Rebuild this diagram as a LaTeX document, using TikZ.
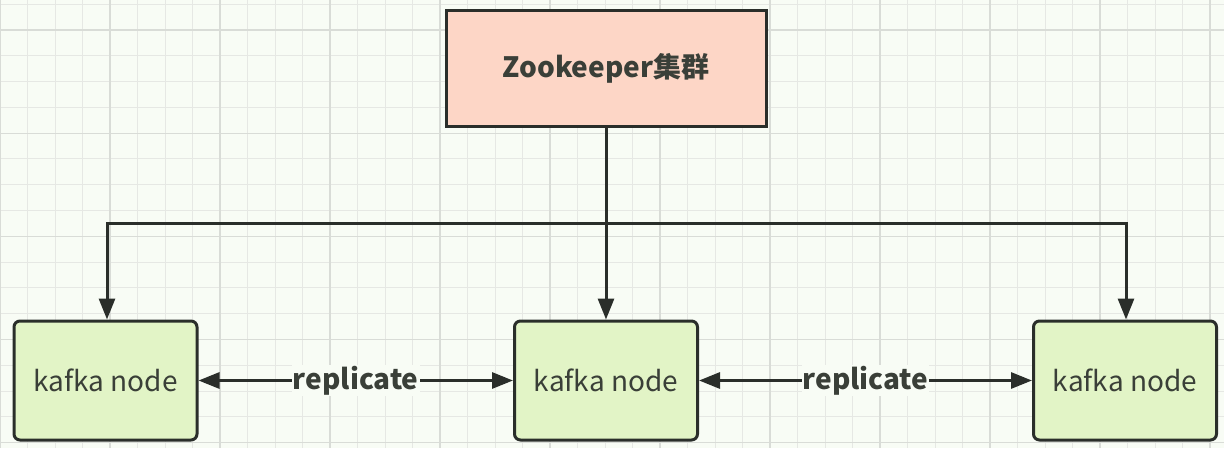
\documentclass[tikz,border=0pt]{standalone}
\usepackage{fontspec}
\setmainfont{Noto Sans CJK SC}
\usetikzlibrary{arrows.meta}
\definecolor{bgc}{HTML}{F8FCF5}
\definecolor{gridc}{HTML}{E6E8E4}
\definecolor{gridm}{HTML}{D9DCD7}
\definecolor{zkfill}{HTML}{FDD6C6}
\definecolor{kfill}{HTML}{E2F4C6}
\definecolor{linec}{HTML}{2A2E2A}
\definecolor{txtc}{HTML}{3A3F38}
\tikzset{
  zkbox/.style={draw=linec, line width=3pt, fill=zkfill, minimum width=320pt, minimum height=116pt, inner sep=0pt, font=\fontsize{28}{32}\selectfont\bfseries, text=txtc},
  kbox/.style={draw=linec, line width=3pt, fill=kfill, rounded corners=6pt, minimum width=183pt, minimum height=119pt, inner sep=0pt, font=\fontsize{28}{32}\selectfont, text=txtc},
  conn/.style={draw=linec, line width=3pt, -{Triangle[length=21pt,width=16pt]}},
  rep/.style={draw=linec, line width=3pt, {Triangle[length=21pt,width=16pt]}-{Triangle[length=21pt,width=16pt]}},
  replbl/.style={fill=bgc, inner sep=1pt, font=\fontsize{28}{32}\selectfont\bfseries, text=txtc}
}
\begin{document}
\begin{tikzpicture}[x=1pt,y=-1pt]
\useasboundingbox (0,0) rectangle (1224,448);
\fill[bgc] (0,0) rectangle (1224,448);
\foreach \i in {0,...,44} {
  \pgfmathsetmacro{\xx}{27.5*\i}
  \draw[gridc, line width=1pt] (\xx,0) -- (\xx,448);
}
\foreach \j in {0,...,17} {
  \pgfmathsetmacro{\yy}{4+25.8*\j}
  \draw[gridc, line width=1pt] (0,\yy) -- (1224,\yy);
}
\foreach \i in {0,...,11} {
  \pgfmathsetmacro{\xx}{110*\i}
  \draw[gridm, line width=1.2pt] (\xx,0) -- (\xx,448);
}
\foreach \j in {0,...,4} {
  \pgfmathsetmacro{\yy}{30+103.2*\j}
  \draw[gridm, line width=1.2pt] (0,\yy) -- (1224,\yy);
}
\node[zkbox] (zk) at (606,68) {Zookeeper集群};
\node[kbox] (k1) at (105.5,380.5) {kafka node};
\node[kbox] (k2) at (606,380.5) {kafka node};
\node[kbox] (k3) at (1125,380.5) {kafka node};
\coordinate (j) at (606,223);
\coordinate (jl) at (107,223);
\coordinate (jr) at (1126,223);
\draw[draw=linec, line width=3pt] (zk.south) -- (j);
\draw[conn] (j) -- (k2.north);
\draw[conn] (j) -- (jl) -- (k1.north -| jl);
\draw[conn] (j) -- (jr) -- (k3.north -| jr);
\draw[rep] (k1.east) -- node[replbl] {replicate} (k2.west);
\draw[rep] (k2.east) -- node[replbl] {replicate} (k3.west);
\end{tikzpicture}
\end{document}
